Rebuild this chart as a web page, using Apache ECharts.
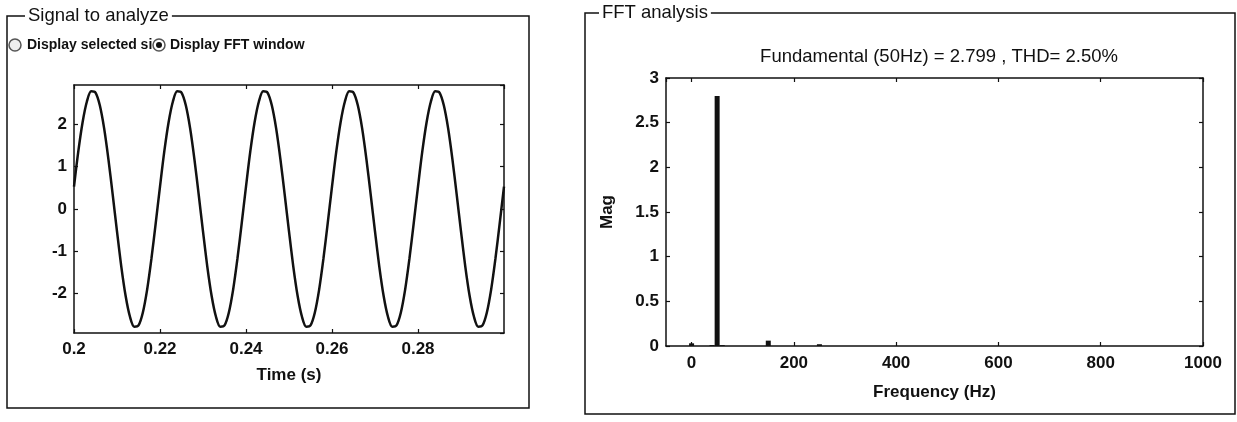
<!doctype html>
<html>
<head>
<meta charset="UTF-8">
<title>Signal / FFT analysis</title>
<script src="https://cdn.jsdelivr.net/npm/echarts@6/dist/echarts.min.js"></script>
<style>
  html, body { margin: 0; padding: 0; background: #fff; }
  #main { width: 1237px; height: 422px; }
</style>
</head>
<body>
<div id="main"></div>
<script>
// signal samples (1 ms step)
var timeS = [
  0.200, 0.201, 0.202, 0.203, 0.204, 0.205, 0.206, 0.207, 0.208, 0.209,
  0.210, 0.211, 0.212, 0.213, 0.214, 0.215, 0.216, 0.217, 0.218, 0.219,
  0.220, 0.221, 0.222, 0.223, 0.224, 0.225, 0.226, 0.227, 0.228, 0.229,
  0.230, 0.231, 0.232, 0.233, 0.234, 0.235, 0.236, 0.237, 0.238, 0.239,
  0.240, 0.241, 0.242, 0.243, 0.244, 0.245, 0.246, 0.247, 0.248, 0.249,
  0.250, 0.251, 0.252, 0.253, 0.254, 0.255, 0.256, 0.257, 0.258, 0.259,
  0.260, 0.261, 0.262, 0.263, 0.264, 0.265, 0.266, 0.267, 0.268, 0.269,
  0.270, 0.271, 0.272, 0.273, 0.274, 0.275, 0.276, 0.277, 0.278, 0.279,
  0.280, 0.281, 0.282, 0.283, 0.284, 0.285, 0.286, 0.287, 0.288, 0.289,
  0.290, 0.291, 0.292, 0.293, 0.294, 0.295, 0.296, 0.297, 0.298, 0.299,
  0.300
];
var signal = [
  0.53, 1.36, 2.05, 2.54, 2.78, 2.75, 2.45, 1.91, 1.18, 0.34,
  -0.53, -1.36, -2.05, -2.54, -2.78, -2.75, -2.45, -1.91, -1.18, -0.34,
  0.53, 1.36, 2.05, 2.54, 2.78, 2.75, 2.45, 1.91, 1.18, 0.34,
  -0.53, -1.36, -2.05, -2.54, -2.78, -2.75, -2.45, -1.91, -1.18, -0.34,
  0.53, 1.36, 2.05, 2.54, 2.78, 2.75, 2.45, 1.91, 1.18, 0.34,
  -0.53, -1.36, -2.05, -2.54, -2.78, -2.75, -2.45, -1.91, -1.18, -0.34,
  0.53, 1.36, 2.05, 2.54, 2.78, 2.75, 2.45, 1.91, 1.18, 0.34,
  -0.53, -1.36, -2.05, -2.54, -2.78, -2.75, -2.45, -1.91, -1.18, -0.34,
  0.53, 1.36, 2.05, 2.54, 2.78, 2.75, 2.45, 1.91, 1.18, 0.34,
  -0.53, -1.36, -2.05, -2.54, -2.78, -2.75, -2.45, -1.91, -1.18, -0.34,
  0.53
];

// FFT bins that show above zero (Hz, magnitude)
var fftFreq = [0, 40, 50, 60, 150, 250];
var fftMag = [0.03, 0.01, 2.799, 0.01, 0.06, 0.02];

var fundamental = 2.799;
var thd = 2.50;

var ink = '#111';
var fnt = 'Arial, "Liberation Sans", sans-serif';

var sigData = timeS.map(function (t, i) { return [t, signal[i]]; });
var fftData = fftFreq.map(function (f, i) { return [f, fftMag[i]]; });

function boxAxis(grid, pos, min, max, extra) {
  var a = {
    gridIndex: grid, type: 'value', position: pos, min: min, max: max,
    axisLine: { show: true, onZero: false, lineStyle: { color: ink, width: 1.5 } },
    axisTick: { show: true, inside: true, length: 4, lineStyle: { color: ink, width: 1.2 } },
    axisLabel: { show: false },
    splitLine: { show: false }
  };
  for (var k in extra) a[k] = extra[k];
  return a;
}

var lbl = { color: ink, fontFamily: fnt, fontSize: 17, fontWeight: 'bold', showMinLabel: false, showMaxLabel: false };
var nameStyle = { color: ink, fontFamily: fnt, fontSize: 17, fontWeight: 'bold' };

var myChart = echarts.init(document.getElementById('main'), null, { renderer: 'canvas' });

var option = {
  backgroundColor: '#fff',
  animation: false,
  grid: [
    { left: 74, top: 85, width: 430, height: 248 },
    { left: 666, top: 78, width: 537, height: 268 }
  ],
  xAxis: [
    boxAxis(0, 'bottom', 0.2, 0.3, {
      interval: 0.02,
      axisLabel: Object.assign({}, lbl, { showMinLabel: true, margin: 8,
        formatter: function (v) { return String(+v.toFixed(2)); } }),
      name: 'Time (s)', nameLocation: 'middle', nameGap: 34, nameTextStyle: nameStyle
    }),
    boxAxis(0, 'top', 0.2, 0.3, { interval: 0.02 }),
    boxAxis(1, 'bottom', -50, 1000, {
      splitNumber: 5,
      axisLabel: Object.assign({}, lbl, { showMaxLabel: true, margin: 9,
        formatter: function (v) { return String(v); } }),
      name: 'Frequency (Hz)', nameLocation: 'middle', nameGap: 38, nameTextStyle: nameStyle
    }),
    boxAxis(1, 'top', -50, 1000, { splitNumber: 5 })
  ],
  yAxis: [
    boxAxis(0, 'left', -2.93, 2.93, {
      splitNumber: 6,
      axisLabel: Object.assign({}, lbl, { margin: 7 })
    }),
    boxAxis(0, 'right', -2.93, 2.93, { splitNumber: 6 }),
    boxAxis(1, 'left', 0, 3, {
      interval: 0.5,
      axisLabel: Object.assign({}, lbl, { showMinLabel: true, showMaxLabel: true, margin: 7 }),
      name: 'Mag', nameLocation: 'middle', nameGap: 50, nameTextStyle: nameStyle
    }),
    boxAxis(1, 'right', 0, 3, { interval: 0.5 })
  ],
  title: {
    text: 'Fundamental (50Hz) = ' + fundamental.toFixed(3) + ' , THD= ' + thd.toFixed(2) + '%',
    left: 934, top: 42, textAlign: 'center',
    textStyle: { color: ink, fontFamily: fnt, fontSize: 18.5, fontWeight: 'normal' }
  },
  series: [
    {
      type: 'line', xAxisIndex: 0, yAxisIndex: 0,
      data: sigData, showSymbol: false, smooth: 0.3,
      lineStyle: { color: ink, width: 2.5 }
    },
    {
      type: 'bar', xAxisIndex: 2, yAxisIndex: 2,
      data: fftData, barWidth: 5,
      itemStyle: { color: ink }
    }
  ],
  graphic: [
    // panel frames
    { type: 'rect', shape: { x: 7, y: 16, width: 522, height: 392 },
      style: { fill: null, stroke: ink, lineWidth: 1.5 }, silent: true },
    { type: 'rect', shape: { x: 585, y: 13, width: 650, height: 401 },
      style: { fill: null, stroke: ink, lineWidth: 1.5 }, silent: true },
    { type: 'text', x: 25, y: 16,
      style: { text: 'Signal to analyze', font: '18.5px ' + fnt, fill: ink,
        verticalAlign: 'middle', backgroundColor: '#fff', padding: [1, 3] } },
    { type: 'text', x: 599, y: 13,
      style: { text: 'FFT analysis', font: '18.5px ' + fnt, fill: ink,
        verticalAlign: 'middle', backgroundColor: '#fff', padding: [1, 3] } },
    // radio buttons
    { type: 'circle', shape: { cx: 15, cy: 45, r: 6 },
      style: { fill: '#eee', stroke: '#555', lineWidth: 1.5 } },
    { type: 'text', x: 27, y: 45,
      style: { text: 'Display selected si', font: 'bold 14px ' + fnt, fill: ink, verticalAlign: 'middle' } },
    { type: 'circle', shape: { cx: 159, cy: 45, r: 6 },
      style: { fill: '#fff', stroke: '#555', lineWidth: 1.5 } },
    { type: 'circle', shape: { cx: 159, cy: 45, r: 3 },
      style: { fill: ink } },
    { type: 'text', x: 170, y: 45,
      style: { text: 'Display FFT window', font: 'bold 14px ' + fnt, fill: ink, verticalAlign: 'middle' } }
  ]
};

myChart.setOption(option);
</script>
</body>
</html>
